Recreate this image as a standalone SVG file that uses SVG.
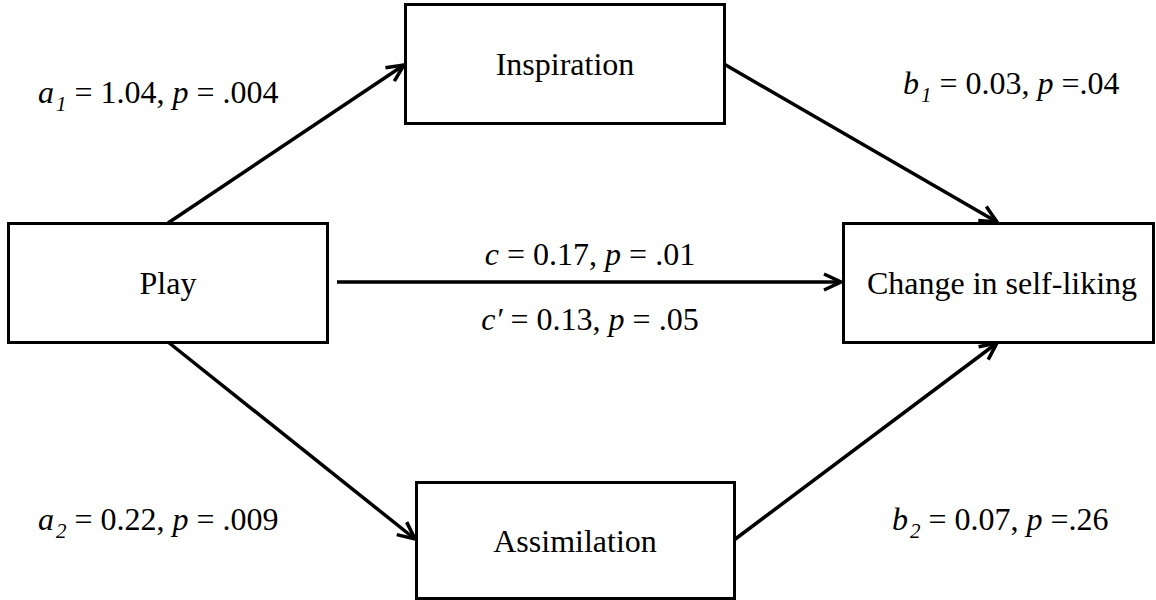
<svg xmlns="http://www.w3.org/2000/svg" width="1156" height="600" viewBox="0 0 1156 600">
<style>
.box{fill:#fff;stroke:#000;stroke-width:3}
.lbl{font-family:'Liberation Serif',Tinos,'Times New Roman',Times,'Nimbus Roman','DejaVu Serif',serif;font-size:32px;fill:#000}
.it{font-style:italic}
.sub{font-style:italic;font-size:21px}
.edge{stroke:#000;stroke-width:3.5;fill:none;marker-end:url(#arr)}
</style>
<defs>
<marker id="arr" viewBox="-20 -11 22 22" refX="0" refY="0" markerWidth="22" markerHeight="22" markerUnits="userSpaceOnUse" orient="auto">
<path d="M-17,-8 L0,0 L-17,8" fill="none" stroke="#000" stroke-width="3.5" stroke-linejoin="miter"/>
</marker>
</defs>
<rect width="1156" height="600" fill="#fff"/>
<g id="connectors">
<line class="edge" x1="168" y1="223" x2="404" y2="65"/>
<line class="edge" x1="724" y1="64" x2="997" y2="222"/>
<line class="edge" x1="337" y1="282" x2="841" y2="282"/>
<line class="edge" x1="168" y1="342" x2="415" y2="539"/>
<line class="edge" x1="734" y1="540" x2="997" y2="343"/>
</g>
<g id="node-play" font-family="Liberation Serif, Times New Roman, serif">
<rect class="box" x="8.5" y="223.5" width="319" height="119"/>
<text class="lbl" x="168" y="294" text-anchor="middle">Play</text>
</g>
<g id="node-inspiration">
<rect class="box" x="405.5" y="4.5" width="319" height="119"/>
<text class="lbl" x="565" y="75" text-anchor="middle">Inspiration</text>
</g>
<g id="node-change">
<rect class="box" x="843.5" y="223.5" width="310" height="119"/>
<text class="lbl" x="1002" y="294" text-anchor="middle">Change in self-liking</text>
</g>
<g id="node-assimilation">
<rect class="box" x="416.5" y="482.5" width="318" height="116"/>
<text class="lbl" x="575" y="552" text-anchor="middle">Assimilation</text>
</g>
<g id="labels">
<text class="lbl" x="38" y="103"><tspan class="it">a</tspan><tspan class="sub" dx="2" dy="8">1</tspan><tspan dy="-8"> = 1.04, </tspan><tspan class="it">p</tspan> = .004</text>
<text class="lbl" x="903" y="94"><tspan class="it">b</tspan><tspan class="sub" dx="2" dy="8">1</tspan><tspan dy="-8"> = 0.03, </tspan><tspan class="it">p</tspan> =.04</text>
<text class="lbl" x="590" y="265" text-anchor="middle"><tspan class="it">c</tspan> = 0.17, <tspan class="it">p</tspan> = .01</text>
<text class="lbl" x="590" y="330" text-anchor="middle"><tspan class="it">c′</tspan> = 0.13, <tspan class="it">p</tspan> = .05</text>
<text class="lbl" x="38" y="530"><tspan class="it">a</tspan><tspan class="sub" dx="2" dy="8">2</tspan><tspan dy="-8"> = 0.22, </tspan><tspan class="it">p</tspan> = .009</text>
<text class="lbl" x="892" y="530"><tspan class="it">b</tspan><tspan class="sub" dx="2" dy="8">2</tspan><tspan dy="-8"> = 0.07, </tspan><tspan class="it">p</tspan> =.26</text>
</g>
</svg>
